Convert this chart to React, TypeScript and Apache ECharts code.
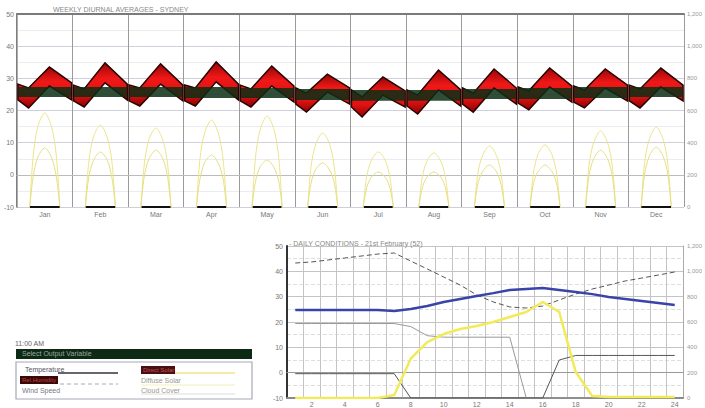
import React, { useEffect, useRef } from 'react';
import * as echarts from 'echarts';

// ---------- Top chart: monthly diurnal averages ----------
const MONTHS = ['Jan', 'Feb', 'Mar', 'Apr', 'May', 'Jun', 'Jul', 'Aug', 'Sep', 'Oct', 'Nov', 'Dec'];
const BAND_HOURS = [0.4, 5, 14, 23.6];
const TEMP_MAX = [
  [28.2, 27.0, 33.5, 28.6],
  [27.9, 26.7, 34.8, 28.2],
  [27.9, 27.0, 34.5, 27.9],
  [27.9, 27.0, 35.1, 28.2],
  [27.9, 26.7, 33.8, 27.6],
  [27.0, 25.4, 31.3, 27.0],
  [26.4, 24.2, 30.4, 26.1],
  [26.4, 24.8, 32.6, 26.4],
  [27.0, 25.4, 32.9, 27.0],
  [27.3, 26.1, 33.2, 27.6],
  [27.6, 26.4, 32.9, 27.9],
  [27.9, 26.7, 33.2, 27.9],
];
const TEMP_MIN = [
  [23.3, 20.8, 27.6, 23.3],
  [23.0, 21.1, 28.6, 23.3],
  [23.0, 21.4, 28.2, 23.0],
  [23.0, 21.4, 28.9, 23.3],
  [23.0, 21.1, 27.6, 22.6],
  [22.0, 19.5, 25.8, 22.0],
  [21.1, 18.0, 24.8, 21.1],
  [21.4, 18.9, 26.4, 21.4],
  [22.0, 19.5, 27.0, 22.0],
  [22.3, 20.2, 27.3, 22.6],
  [22.6, 20.8, 27.0, 23.0],
  [23.0, 20.8, 27.3, 23.0],
];
const COMFORT_HIGH = [27.3, 27.3, 27.3, 27.3, 27.0, 26.7, 26.4, 26.4, 26.7, 27.0, 27.3, 27.3];
const COMFORT_LOW = [24.2, 24.2, 24.2, 23.9, 23.9, 23.3, 23.0, 23.0, 23.6, 23.6, 23.9, 24.2];

const SOLAR_HOURS = [5.5, 7, 9, 12, 15, 17, 18.5];
const GLOBAL_SOLAR = [
  [0, 320, 500, 585, 495, 315, 0],
  [0, 280, 435, 510, 430, 280, 0],
  [0, 270, 420, 491, 415, 270, 0],
  [0, 300, 460, 541, 455, 295, 0],
  [0, 310, 480, 566, 480, 310, 0],
  [0, 255, 390, 460, 390, 250, 0],
  [0, 190, 290, 342, 290, 185, 0],
  [0, 185, 285, 336, 285, 185, 0],
  [0, 210, 320, 379, 320, 210, 0],
  [0, 210, 330, 386, 325, 210, 0],
  [0, 260, 400, 473, 400, 260, 0],
  [0, 275, 420, 497, 420, 270, 0],
];
const DIRECT_SOLAR = [
  [0, 190, 310, 367, 305, 185, 0],
  [0, 185, 290, 342, 290, 180, 0],
  [0, 195, 300, 354, 300, 190, 0],
  [0, 175, 275, 323, 270, 175, 0],
  [0, 160, 250, 292, 245, 160, 0],
  [0, 150, 235, 274, 230, 150, 0],
  [0, 120, 185, 218, 185, 120, 0],
  [0, 120, 185, 218, 185, 120, 0],
  [0, 145, 220, 261, 220, 140, 0],
  [0, 145, 220, 261, 220, 145, 0],
  [0, 195, 300, 354, 300, 195, 0],
  [0, 205, 315, 373, 315, 205, 0],
];
const SUNRISE = [5.6, 5.7, 5.8, 5.8, 5.8, 5.8, 5.8, 5.8, 5.7, 5.6, 5.6, 5.6];
const SUNSET = [18.4, 18.4, 18.3, 18.3, 18.2, 18.2, 18.2, 18.2, 18.3, 18.4, 18.4, 18.4];

// ---------- Bottom chart: daily conditions ----------
const HOURS = ['1', '2', '3', '4', '5', '6', '7', '8', '9', '10', '11', '12', '13', '14', '15', '16', '17', '18', '19', '20', '21', '22', '23', '24'];
const DAY_TEMP = [24.7, 24.7, 24.7, 24.7, 24.7, 24.7, 24.3, 25.1, 26.3, 27.9, 29.1, 30.3, 31.4, 32.6, 33.0, 33.4, 32.6, 31.8, 31.0, 29.9, 29.1, 28.3, 27.5, 26.7];
const DAY_RH = [88.8, 89.5, 90.8, 92.1, 93.4, 94.7, 95.4, 90.1, 84.9, 79.6, 74.3, 67.8, 63.2, 59.9, 59.2, 60.5, 64.5, 68.4, 71.7, 74.3, 77.0, 78.9, 80.9, 82.9];
const DAY_DIRECT = [0, 0, 0, 0, 0, 0, 24, 310, 442, 505, 545, 568, 600, 640, 679, 758, 679, 205, 16, 8, 8, 8, 8, 8];
const DAY_WIND = [49, 49, 49, 49, 49, 49, 49, 47, 41, 40, 40, 40, 40, 40, 0, 0, 0, 0, 0, 0, 0, 0, 0, 0];
const DAY_CLOUD = [16, 16, 16, 16, 16, 16, 16, 0, 0, 0, 0, 0, 0, 0, 0, 0, 25, 28, 28, 28, 28, 28, 28, 28];

const TOP_TITLE = 'WEEKLY DIURNAL AVERAGES - SYDNEY';
const BOTTOM_TITLE = '- DAILY CONDITIONS - 21st February (52)';

function monthLine(rows: number[][], hours: number[]) {
  const out: any[] = [];
  rows.forEach((r, m) => {
    hours.forEach((h, k) => out.push([m * 24 + h, r[k]]));
    out.push([m * 24 + 23, '-']);
  });
  return out;
}

function dayLine() {
  const out: any[] = [];
  MONTHS.forEach((_, m) => {
    out.push([m * 24 + SUNRISE[m], 0]);
    out.push([m * 24 + SUNSET[m], 0]);
    out.push([m * 24 + 23, '-']);
  });
  return out;
}

const small = { fontSize: 7, color: '#777' };

export default function App() {
  const ref = useRef<HTMLDivElement>(null);
  useEffect(() => {
    document.body.style.margin = '0';
    const chart = echarts.init(ref.current!, null, { renderer: 'svg' });
    const option: any = {
      animation: false,
      backgroundColor: '#fff',
      title: [
        { text: TOP_TITLE, left: 48, top: 1, textStyle: { fontSize: 7, color: '#888', fontWeight: 'normal' } },
        { text: BOTTOM_TITLE, left: 284, top: 235, textStyle: { fontSize: 7, color: '#888', fontWeight: 'normal' } },
      ],
      grid: [
        { left: 17, top: 14, width: 678, height: 193 },
        { left: 287, top: 246, width: 401, height: 152 },
      ],
      xAxis: [
        {
          type: 'category', gridIndex: 0, data: MONTHS, boundaryGap: true,
          axisLine: { lineStyle: { color: '#bbb' } }, axisTick: { show: false },
          axisLabel: { ...small, margin: 4 },
          splitLine: { show: true, interval: 0, lineStyle: { color: '#9a9a9a', width: 1 } },
        },
        { type: 'value', gridIndex: 0, min: 0, max: 288, show: false },
        {
          type: 'category', gridIndex: 1, data: HOURS, boundaryGap: true,
          axisLine: { lineStyle: { color: '#999' } }, axisTick: { show: false },
          axisLabel: { ...small, margin: 3, interval: (i: number) => i % 2 === 1 },
          splitLine: { show: true, interval: 0, lineStyle: { color: '#c4c4c4' } },
        },
        {
          type: 'value', gridIndex: 0, position: 'top', min: 0, max: 1,
          axisLine: { show: true, lineStyle: { color: '#7a7a7a', width: 2 } },
          axisLabel: { show: false }, axisTick: { show: false }, splitLine: { show: false },
        },
        {
          type: 'value', gridIndex: 1, position: 'top', min: 0, max: 1,
          axisLine: { show: true, lineStyle: { color: '#8a8a8a', width: 2 } },
          axisLabel: { show: false }, axisTick: { show: false }, splitLine: { show: false },
        },
      ],
      yAxis: [
        {
          type: 'value', gridIndex: 0, min: -10, max: 50, interval: 10,
          axisLine: { show: true, lineStyle: { color: '#555', width: 1.5 } },
          axisTick: { show: false }, axisLabel: { ...small, margin: 3 },
          splitLine: { lineStyle: { color: '#cfcfdc' } },
          minorTick: { show: false, splitNumber: 2 },
          minorSplitLine: { show: true, lineStyle: { color: '#ebebf2' } },
        },
        {
          type: 'value', gridIndex: 0, position: 'right', min: 0, max: 1200, interval: 200,
          axisLine: { show: true, lineStyle: { color: '#aaa' } },
          axisTick: { show: false }, axisLabel: { fontSize: 6, color: '#999', margin: 3 },
          splitLine: { show: false },
        },
        {
          type: 'value', gridIndex: 1, min: -10, max: 50, interval: 10,
          axisLine: { show: true, lineStyle: { color: '#333', width: 2 } },
          axisTick: { show: false }, axisLabel: { ...small, margin: 4 },
          splitLine: { lineStyle: { color: '#c4c4c4' } },
          minorTick: { show: false, splitNumber: 2 },
          minorSplitLine: { show: true, lineStyle: { color: '#dedede', type: 'dashed' } },
        },
        {
          type: 'value', gridIndex: 1, position: 'right', min: 0, max: 1200, interval: 200,
          axisLine: { show: true, lineStyle: { color: '#aaa' } },
          axisTick: { show: false }, axisLabel: { fontSize: 6, color: '#999', margin: 4 },
          splitLine: { show: false },
        },
        { type: 'value', gridIndex: 1, min: 0, max: 100, show: false },
      ],
      series: [
        {
          name: 'Temperature range', type: 'custom', xAxisIndex: 1, yAxisIndex: 0, z: 2,
          data: MONTHS.map((_, i) => [i]),
          renderItem: (params: any, api: any) => {
            const m = api.value(0);
            const up = BAND_HOURS.map((h, k) => api.coord([m * 24 + h, TEMP_MAX[m][k]]));
            const lo = BAND_HOURS.map((h, k) => api.coord([m * 24 + h, TEMP_MIN[m][k]])).reverse();
            return {
              type: 'polygon',
              shape: { points: up.concat(lo) },
              style: {
                fill: new echarts.graphic.LinearGradient(0, 0, 0, 1, [
                  { offset: 0, color: '#9a0606' },
                  { offset: 0.35, color: '#f01818' },
                  { offset: 0.7, color: '#e01212' },
                  { offset: 1, color: '#8a0404' },
                ]),
                stroke: '#2a0000', lineWidth: 1.5,
              },
            };
          },
        },
        {
          name: 'Comfort', type: 'custom', xAxisIndex: 1, yAxisIndex: 0, z: 3,
          data: MONTHS.map((_, i) => [i]),
          renderItem: (params: any, api: any) => {
            const m = api.value(0);
            const p1 = api.coord([m * 24, COMFORT_HIGH[m]]);
            const p2 = api.coord([m * 24 + 24, COMFORT_LOW[m]]);
            return {
              type: 'rect',
              shape: { x: p1[0] + 1.5, y: p1[1], width: p2[0] - p1[0] - 3, height: p2[1] - p1[1] },
              style: { fill: '#0a2e14', opacity: 0.85 },
            };
          },
        },
        {
          name: 'Global Solar', type: 'line', xAxisIndex: 1, yAxisIndex: 1, z: 4,
          data: monthLine(GLOBAL_SOLAR, SOLAR_HOURS), smooth: 0.3, showSymbol: false,
          lineStyle: { color: '#ece48a', width: 1 },
        },
        {
          name: 'Direct Solar', type: 'line', xAxisIndex: 1, yAxisIndex: 1, z: 4,
          data: monthLine(DIRECT_SOLAR, SOLAR_HOURS), smooth: 0.3, showSymbol: false,
          lineStyle: { color: '#e6de80', width: 1 },
        },
        {
          name: 'Daylight', type: 'line', xAxisIndex: 1, yAxisIndex: 1, z: 5,
          data: dayLine(), showSymbol: false,
          lineStyle: { color: '#111', width: 2 },
        },
        {
          name: 'Rel.Humidity', type: 'line', xAxisIndex: 2, yAxisIndex: 4, z: 4,
          data: DAY_RH, showSymbol: false,
          lineStyle: { color: '#555', width: 1, type: [5, 3] },
        },
        {
          name: 'Wind Speed', type: 'line', xAxisIndex: 2, yAxisIndex: 4, z: 4,
          data: DAY_WIND, showSymbol: false,
          lineStyle: { color: '#999', width: 1 },
        },
        {
          name: 'Cloud Cover', type: 'line', xAxisIndex: 2, yAxisIndex: 4, z: 4,
          data: DAY_CLOUD, showSymbol: false,
          lineStyle: { color: '#555', width: 1 },
        },
        {
          name: 'Direct Solar Day', type: 'line', xAxisIndex: 2, yAxisIndex: 3, z: 5,
          data: DAY_DIRECT, showSymbol: false,
          lineStyle: { color: '#f3ea5a', width: 2.5 },
        },
        {
          name: 'Temperature', type: 'line', xAxisIndex: 2, yAxisIndex: 2, z: 6,
          data: DAY_TEMP, showSymbol: false,
          lineStyle: { color: '#3a44a8', width: 2.5 },
        },
      ],
      graphic: [
        { type: 'text', left: 15, top: 340, style: { text: '11:00 AM', fontSize: 7, fill: '#666' } },
        { type: 'rect', shape: { x: 16, y: 349, width: 236, height: 10 }, style: { fill: '#0c2a14' } },
        { type: 'text', left: 22, top: 350, style: { text: 'Select Output Variable', fontSize: 7, fill: '#9aa8a0' } },
        { type: 'rect', shape: { x: 16, y: 362, width: 236, height: 37 }, style: { fill: '#fff', stroke: '#a8a8b8', lineWidth: 1.2 } },
        { type: 'text', left: 25, top: 366, style: { text: 'Temperature', fontSize: 7, fill: '#556' } },
        { type: 'line', shape: { x1: 58, y1: 373, x2: 118, y2: 373 }, style: { stroke: '#334', lineWidth: 1.5 } },
        { type: 'rect', shape: { x: 20, y: 376, width: 38, height: 8 }, style: { fill: '#3a0808' } },
        { type: 'text', left: 22, top: 377, style: { text: 'Rel.Humidity', fontSize: 6, fill: '#c04040' } },
        { type: 'line', shape: { x1: 60, y1: 384, x2: 118, y2: 384 }, style: { stroke: '#aaa', lineWidth: 1, lineDash: [4, 3] } },
        { type: 'text', left: 22, top: 387, style: { text: 'Wind Speed', fontSize: 7, fill: '#778' } },
        { type: 'rect', shape: { x: 141, y: 366, width: 34, height: 8 }, style: { fill: '#4a1010' } },
        { type: 'text', left: 143, top: 367, style: { text: 'Direct Solar', fontSize: 6, fill: '#c05050' } },
        { type: 'line', shape: { x1: 175, y1: 373, x2: 235, y2: 373 }, style: { stroke: '#efe48a', lineWidth: 1.5 } },
        { type: 'text', left: 141, top: 377, style: { text: 'Diffuse Solar', fontSize: 7, fill: '#998' } },
        { type: 'line', shape: { x1: 141, y1: 385, x2: 235, y2: 385 }, style: { stroke: '#f2eeb8', lineWidth: 1 } },
        { type: 'text', left: 141, top: 387, style: { text: 'Cloud Cover', fontSize: 7, fill: '#998' } },
        { type: 'line', shape: { x1: 141, y1: 394, x2: 235, y2: 394 }, style: { stroke: '#ddd', lineWidth: 1 } },
      ],
    };
    chart.setOption(option);
    return () => chart.dispose();
  }, []);
  return <div ref={ref} style={{ width: 705, height: 408 }} />;
}
